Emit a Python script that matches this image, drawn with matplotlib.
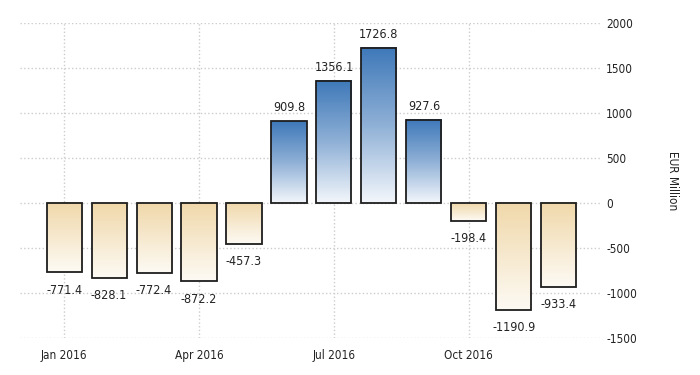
import numpy as np
import matplotlib
matplotlib.use("Agg")
from matplotlib import pyplot as plt
from matplotlib.colors import LinearSegmentedColormap

months = np.arange(12)
values = [-771.4, -828.1, -772.4, -872.2, -457.3, 909.8, 1356.1, 1726.8, 927.6, -198.4, -1190.9, -933.4]
tick_pos = [0, 3, 6, 9]
tick_labels = ["Jan 2016", "Apr 2016", "Jul 2016", "Oct 2016"]
y_ticks = [-1500, -1000, -500, 0, 500, 1000, 1500, 2000]

plt.rcParams['font.family'] = ['DejaVu Sans']
plt.rcParams['font.stretch'] = 'condensed'

blue = LinearSegmentedColormap.from_list("b", ["#f2f6fb", "#8fb0d6", "#3f79b9"])
beige = LinearSegmentedColormap.from_list("o", ["#fdfaf4", "#f0d8aa"])

fig = plt.figure(figsize=(7, 3.75), dpi=100)
ax = fig.add_axes([0.0286, 0.0987, 0.8314, 0.84])

w = 0.78
grad = np.linspace(0, 1, 100).reshape(-1, 1)
for x, v in zip(months, values):
    if v >= 0:
        ax.imshow(grad, cmap=blue, origin="lower", aspect="auto",
                  extent=(x - w / 2, x + w / 2, 0, v), zorder=2)
        ax.annotate(f"{v:.1f}", (x, v), xytext=(0, 5), textcoords="offset points",
                    ha="center", va="bottom", fontsize=9, color="#222222")
    else:
        ax.imshow(grad, cmap=beige, origin="lower", aspect="auto",
                  extent=(x - w / 2, x + w / 2, v, 0), zorder=2)
        ax.annotate(f"{v:.1f}", (x, v), xytext=(0, -8), textcoords="offset points",
                    ha="center", va="top", fontsize=9, color="#222222")

ax.bar(months, values, width=w, facecolor="none", edgecolor="#1e1e1e", linewidth=1.3, zorder=3)

ax.set_xlim(-0.98, 11.96)
ax.set_ylim(-1500, 2000)
ax.set_xticks(tick_pos)
ax.set_xticklabels(tick_labels, fontsize=8.5, color="#222222")
ax.set_yticks(y_ticks)
ax.yaxis.tick_right()
ax.set_yticklabels([str(t) for t in y_ticks], fontsize=8.5, color="#222222", ha="left")
ax.tick_params(axis="both", length=0, pad=8)
ax.tick_params(axis="y", pad=3)

ax.yaxis.set_label_position("right")
ax.set_ylabel("EUR Million", rotation=-90, fontsize=8.5, color="#222222", labelpad=30)

ax.grid(True, color="#cccccc", linestyle=":", linewidth=1)
ax.set_axisbelow(True)
for s in ax.spines.values():
    s.set_visible(False)

plt.savefig("out.png", dpi=100)
